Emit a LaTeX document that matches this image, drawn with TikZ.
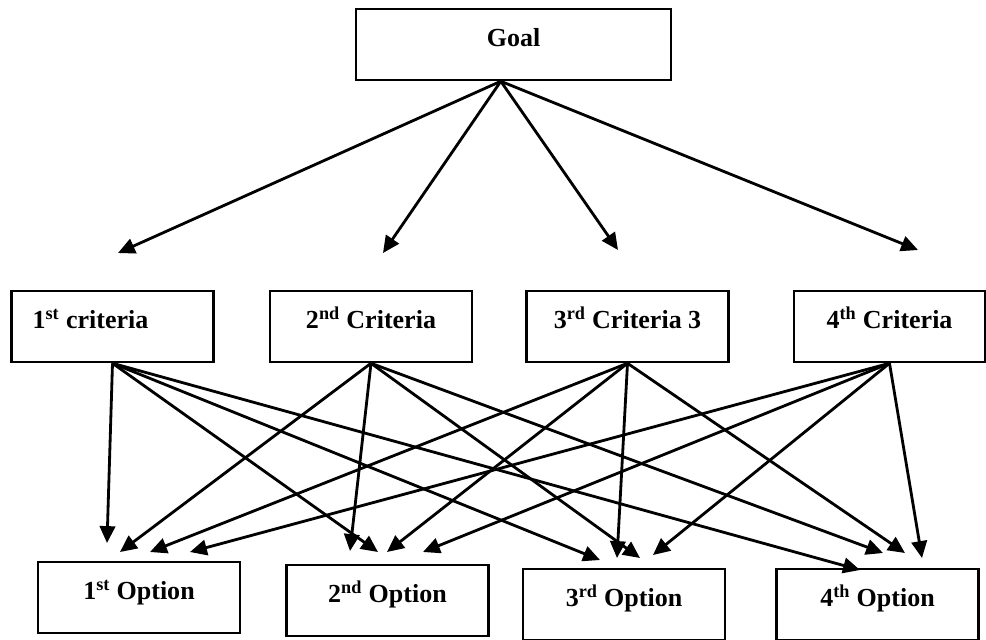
\documentclass[tikz,border=0pt]{standalone}
\usepackage{fontspec}
\setmainfont{Liberation Serif}
\usetikzlibrary{
    arrows.meta,
    calc
}
\tikzset{
    >={Triangle[length=12pt,width=11pt]},
    box/.style={
        draw,
        line width=1.8pt,
        minimum width=5.05cm,
        minimum height=1.775cm,
        font=\fontsize{18.5}{22}\selectfont\bfseries,
        text height=13pt,
        text depth=10pt
    },
    link/.style={
        ->,
        line width=2pt
    }
}

\begin{document}
\begin{tikzpicture}[
    x=0.025cm,
    y=-0.025cm
]
    \useasboundingbox (0,0) rectangle (986,639);

    % Objetivo
    \node[box, minimum width=7.875cm] (goal) at (513.5,44.5) {Goal};
    \coordinate (top) at ($(goal.south west)!0.46!(goal.south east)$);

    % Criterios
    \node[box] (c1) at (112.5,326.5) {1\textsuperscript{st} criteria\kern1.1cm};
    \node[box] (c2) at (371,326.5)   {2\textsuperscript{nd} Criteria};
    \node[box] (c3) at (627.5,326.5) {3\textsuperscript{rd} Criteria 3};
    \node[box, minimum width=4.775cm]
               (c4) at (889.5,326.5) {4\textsuperscript{th} Criteria};

    % Opciones
    \node[box] (o1) at (139,597.5)   {1\textsuperscript{st} Option};
    \node[box] (o2) at (387.5,600.5) {2\textsuperscript{nd} Option};
    \node[box] (o3) at (624,604.5)   {3\textsuperscript{rd} Option};
    \node[box] (o4) at (877.5,604.5) {4\textsuperscript{th} Option};

    % Puntas de flecha
    \coordinate (g1) at (118,253);
    \coordinate (g2) at (383,253);
    \coordinate (g3) at (618,250);
    \coordinate (g4) at (918,250);

    \coordinate (t11) at (107,543);
    \coordinate (t21) at (120,552);
    \coordinate (t31) at (150,552);
    \coordinate (t41) at (190,552);

    \coordinate (t22) at (350,551);
    \coordinate (t12) at (378,552);
    \coordinate (t32) at (387,552);
    \coordinate (t42) at (423,552);

    \coordinate (t13) at (600,560);
    \coordinate (t33) at (617,558);
    \coordinate (t23) at (640,558);
    \coordinate (t43) at (653,555);

    \coordinate (t14) at (860,570);
    \coordinate (t24) at (883,553);
    \coordinate (t34) at (905,553);
    \coordinate (t44) at (922,558);

    % Objetivo -> criterios
    \path[link]
        (top) edge (g1)
        (top) edge (g2)
        (top) edge (g3)
        (top) edge (g4);

    % Criterios -> opciones
    \path[link]
        (c1.south) edge (t11)
        (c1.south) edge (t12)
        (c1.south) edge (t13)
        (c1.south) edge (t14)

        (c2.south) edge (t21)
        (c2.south) edge (t22)
        (c2.south) edge (t23)
        (c2.south) edge (t24)

        (c3.south) edge (t31)
        (c3.south) edge (t32)
        (c3.south) edge (t33)
        (c3.south) edge (t34)

        (c4.south) edge (t41)
        (c4.south) edge (t42)
        (c4.south) edge (t43)
        (c4.south) edge (t44);

\end{tikzpicture}
\end{document}
